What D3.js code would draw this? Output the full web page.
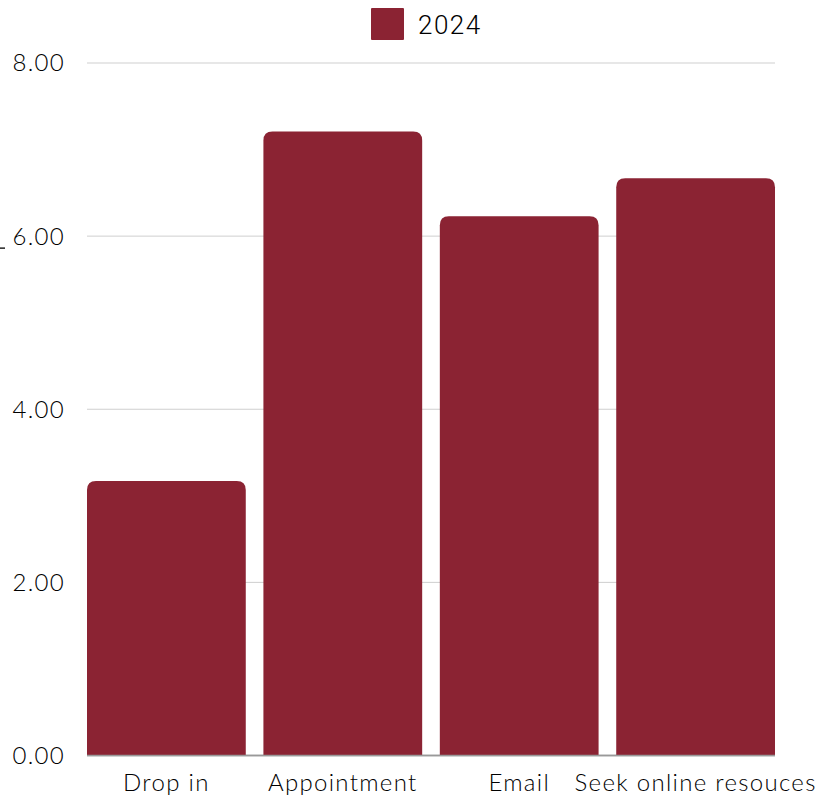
<!DOCTYPE html>
<html lang="en">
<head>
<meta charset="UTF-8">
<title>2024</title>
<script src="https://cdn.jsdelivr.net/npm/d3@7"></script>
<style>
    body { margin: 0; background: #fff; }
    .tick-label { font-family: Lato, "Open Sans", sans-serif; font-weight: 300; font-size: 24px; letter-spacing: 1.3px; fill: #000; }
    .legend-label { font-family: Roboto, sans-serif; font-weight: 300; font-size: 26px; letter-spacing: 1.5px; fill: #000; }
</style>
</head>
<body>
<div id="vis"></div>
<script>
    const categories = ["Drop in", "Appointment", "Email", "Seek online resouces"];
    const values2024 = [3.17, 7.21, 6.23, 6.67];
    const yTicks = [0, 2, 4, 6, 8];
    const seriesName = "2024";

    const width = 825, height = 799;
    const margin = {top: 63, right: 50, bottom: 43.5, left: 87};
    const barColor = "#8b2333";

    const svg = d3.select("#vis").append("svg")
        .attr("width", width)
        .attr("height", height);

    const x = d3.scaleBand()
        .domain(categories)
        .range([margin.left, width - margin.right])
        .paddingInner(0.1)
        .paddingOuter(0);

    const y = d3.scaleLinear()
        .domain([0, 8])
        .range([height - margin.bottom, margin.top]);

    // gridlines
    svg.append("g").selectAll("line")
        .data(yTicks)
        .join("line")
        .attr("x1", margin.left)
        .attr("x2", width - margin.right)
        .attr("y1", d => y(d))
        .attr("y2", d => y(d))
        .attr("stroke", d => d === 0 ? "#999" : "#cfcfcf")
        .attr("stroke-width", d => d === 0 ? 1.5 : 1);

    // y tick labels
    svg.append("g").selectAll("text")
        .data(yTicks)
        .join("text")
        .attr("class", "tick-label")
        .attr("x", 65)
        .attr("y", d => y(d))
        .attr("dy", "0.35em")
        .attr("text-anchor", "end")
        .text(d => d3.format(".2f")(d));

    // stray mark at the left edge
    svg.append("line")
        .attr("x1", 0).attr("x2", 5)
        .attr("y1", y(6) + 12).attr("y2", y(6) + 12)
        .attr("stroke", "#222").attr("stroke-width", 1.5);

    // bars with rounded top corners
    const r = 9;
    function barPath(d, i) {
        const x0 = x(categories[i]), x1 = x0 + x.bandwidth();
        const y0 = y(0), y1 = y(d);
        return `M${x0},${y0}V${y1 + r}Q${x0},${y1} ${x0 + r},${y1}H${x1 - r}Q${x1},${y1} ${x1},${y1 + r}V${y0}Z`;
    }

    svg.append("g").selectAll("path")
        .data(values2024)
        .join("path")
        .attr("d", barPath)
        .attr("fill", barColor);

    // redraw baseline on top
    svg.append("line")
        .attr("x1", margin.left).attr("x2", width - margin.right)
        .attr("y1", y(0)).attr("y2", y(0))
        .attr("stroke", "#999").attr("stroke-width", 1.5);

    // x labels
    svg.append("g").selectAll("text")
        .data(categories)
        .join("text")
        .attr("class", "tick-label")
        .attr("x", d => x(d) + x.bandwidth() / 2)
        .attr("y", 783)
        .attr("dy", "0.35em")
        .attr("text-anchor", "middle")
        .text(d => d);

    // legend
    const legend = svg.append("g");
    legend.append("rect")
        .attr("x", 371).attr("y", 8)
        .attr("width", 33).attr("height", 32)
        .attr("rx", 1)
        .attr("fill", barColor);
    legend.append("text")
        .attr("class", "legend-label")
        .attr("x", 418).attr("y", 25)
        .attr("dy", "0.35em")
        .text(seriesName);
</script>
</body>
</html>
